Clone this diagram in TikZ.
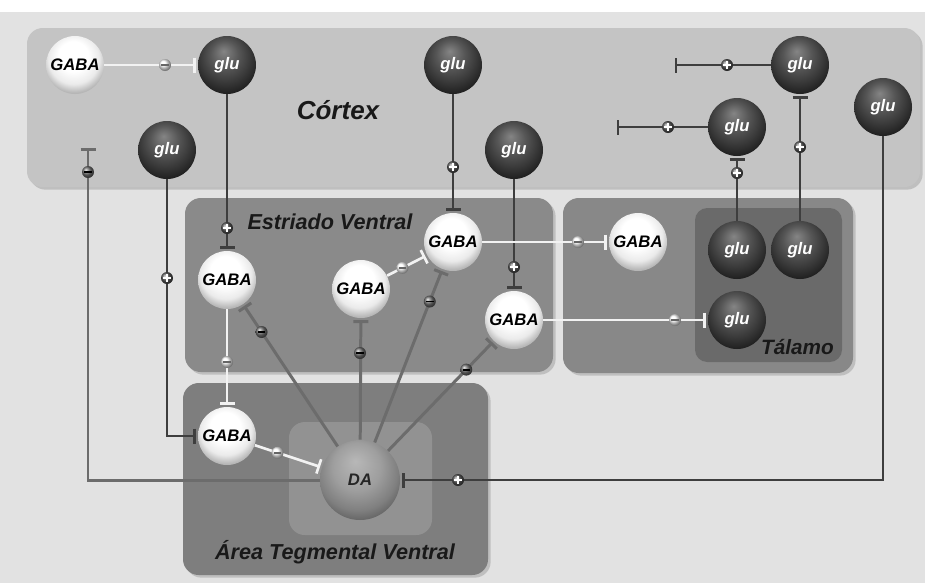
\documentclass[tikz,border=0pt]{standalone}
\usepackage{fontspec}
\setsansfont{Liberation Sans}
\usetikzlibrary{arrows.meta,calc,shadows}
\definecolor{fondo}{RGB}{226,226,226}
\definecolor{cortexf}{RGB}{196,196,196}
\definecolor{estrf}{RGB}{138,138,138}
\definecolor{talf}{RGB}{136,136,136}
\definecolor{talin}{RGB}{106,106,106}
\definecolor{atvf}{RGB}{126,126,126}
\definecolor{atvin}{RGB}{146,146,146}
\definecolor{oscuro}{RGB}{62,62,62}
\definecolor{claro}{RGB}{242,242,242}
\definecolor{medio}{RGB}{108,108,108}
\pgfdeclareradialshading{glush}{\pgfqpoint{-3bp}{12bp}}{color(0bp)=(black!48); color(12bp)=(black!66); color(22bp)=(black!78); color(30bp)=(black!88); color(50bp)=(black)}
\pgfdeclareradialshading{gabash}{\pgfqpoint{-2bp}{10bp}}{color(0bp)=(white); color(13bp)=(white); color(22bp)=(black!8); color(28bp)=(black!28); color(50bp)=(black!50)}
\pgfdeclareradialshading{dash}{\pgfqpoint{-3bp}{12bp}}{color(0bp)=(black!28); color(15bp)=(black!38); color(25bp)=(black!50); color(32bp)=(black!64); color(50bp)=(black!80)}
\newcommand{\rotulo}{\sffamily\bfseries\itshape}
\tikzset{
  region/.style={rounded corners=9pt, drop shadow={shadow xshift=1.5pt, shadow yshift=-1.5pt, opacity=.35}},
  glu/.style={circle, minimum size=1.16cm, inner sep=0pt, shading=glush, text=white, font=\rotulo\fontsize{9.5}{11}\selectfont},
  gaba/.style={circle, minimum size=1.16cm, inner sep=0pt, shading=gabash, text=black, font=\rotulo\fontsize{9.5}{11}\selectfont},
  dop/.style={circle, minimum size=1.6cm, inner sep=0pt, shading=dash, text=black!85, font=\rotulo\fontsize{9.5}{11}\selectfont},
  reg/.style={text=black!90, font=\rotulo\fontsize{12.3}{14}\selectfont},
  exc/.style={oscuro, line width=1.5pt, -{Bar[width=3mm]}, shorten >=1pt},
  inhw/.style={claro, line width=1.5pt, -{Bar[width=3mm]}, shorten >=1pt},
  inhd/.style={medio, line width=1.7pt, -{Bar[width=3mm]}, shorten >=1pt},
  mas/.style={circle, inner sep=0pt, minimum size=2.4mm, ball color=black!65,
    path picture={\draw[white, line width=1pt] ([xshift=-.75mm]path picture bounding box.center) -- ([xshift=.75mm]path picture bounding box.center);
      \draw[white, line width=1pt] ([yshift=-.75mm]path picture bounding box.center) -- ([yshift=.75mm]path picture bounding box.center);}},
  menosw/.style={circle, inner sep=0pt, minimum size=2.4mm, ball color=white,
    path picture={\draw[black!60, line width=1.1pt] ([xshift=-.75mm]path picture bounding box.center) -- ([xshift=.75mm]path picture bounding box.center);}},
  menosd/.style={circle, inner sep=0pt, minimum size=2.4mm, ball color=black!55,
    path picture={\draw[black, line width=1.1pt] ([xshift=-.75mm]path picture bounding box.center) -- ([xshift=.75mm]path picture bounding box.center);}},
}
\begin{document}
\begin{tikzpicture}[x=0.02cm, y=-0.02cm]
  \useasboundingbox (0,0) rectangle (925,583);
  \fill[white] (0,0) rectangle (925,583);
  \fill[fondo] (0,12) rectangle (925,583);
  % regiones
  \fill[cortexf, region] (27,28) rectangle (920,187);
  \fill[estrf, region] (185,198) rectangle (553,372);
  \fill[talf, region] (563,198) rectangle (853,373);
  \fill[talin, rounded corners=7pt] (695,208) rectangle (842,362);
  \fill[atvf, region] (183,383) rectangle (488,575);
  \fill[atvin, rounded corners=9pt] (289,422) rectangle (432,535);
  \node[reg, font=\rotulo\fontsize{14.8}{17}\selectfont] (lctx) at (338,110) {Córtex};
  \node[reg] (lest) at (330,222) {Estriado Ventral};
  \node[reg, anchor=east, font=\rotulo\fontsize{11.8}{14}\selectfont] (ltal) at (840,347) {Tálamo};
  \node[reg] (latv) at (335,552) {Área Tegmental Ventral};
  % corteza
  \node[gaba] (gabaC) at (75,65) {GABA};
  \node[glu] (gluA) at (227,65) {glu};
  \node[glu] (gluB) at (167,150) {glu};
  \node[glu] (gluC) at (453,65) {glu};
  \node[glu] (gluD) at (514,150) {glu};
  \node[glu] (gluE) at (800,65) {glu};
  \node[glu] (gluF) at (737,127) {glu};
  \node[glu] (gluG) at (883,107) {glu};
  % estriado ventral
  \node[gaba] (gabaE1) at (227,280) {GABA};
  \node[gaba] (gabaE2) at (361,289) {GABA};
  \node[gaba] (gabaE3) at (453,242) {GABA};
  \node[gaba] (gabaE4) at (514,320) {GABA};
  % talamo
  \node[gaba] (gabaT) at (638,242) {GABA};
  \node[glu] (gluT1) at (737,250) {glu};
  \node[glu] (gluT2) at (800,250) {glu};
  \node[glu] (gluT3) at (737,320) {glu};
  % area tegmental ventral
  \node[gaba] (gabaV) at (227,436) {GABA};
  \node[dop] (da) at (360,480) {DA};
  \coordinate (finE) at (673,65);
  \coordinate (finF) at (615,127);
  \coordinate (finCtx) at (88,146);
  % conexiones
  \draw[exc] (gluA) -- (gabaE1); \draw[exc] (gluC) -- (gabaE3); \draw[exc] (gluD) -- (gabaE4);
  \draw[exc] (gluB) |- (gabaV); \draw[exc] (gluG) |- (da);
  \draw[exc] (gluT1) -- (gluF); \draw[exc] (gluT2) -- (gluE);
  \draw[exc] (gluE) -- (finE); \draw[exc] (gluF) -- (finF);
  \draw[inhw] (gabaC) -- (gluA); \draw[inhw] (gabaE2) -- (gabaE3); \draw[inhw] (gabaE3) -- (gabaT);
  \draw[inhw] (gabaE4) -- (gluT3); \draw[inhw] (gabaE1) -- (gabaV); \draw[inhw] (gabaV) -- (da);
  \draw[inhd] (da) -| (finCtx);
  \foreach \g in {gabaE1,gabaE2,gabaE3,gabaE4} \draw[inhd] (da) -- (\g);
  % signos
  \node[mas] (p1) at (227,228) {}; \node[mas] (p2) at (453,167) {}; \node[mas] (p3) at (514,267) {};
  \node[mas] (p4) at (167,278) {}; \node[mas] (p5) at (737,173) {}; \node[mas] (p6) at (800,147) {};
  \node[mas] (p7) at (668,127) {}; \node[mas] (p8) at (727,65) {}; \node[mas] (p9) at (458,480) {};
  \node[menosw] (n1) at (165,65) {}; \node[menosw] (n2) at ($(gabaE2)!.45!(gabaE3)$) {};
  \node[menosw] (n3) at (578,242) {}; \node[menosw] (n4) at (675,320) {};
  \node[menosw] (n5) at (227,362) {}; \node[menosw] (n6) at ($(gabaV)!.38!(da)$) {};
  \node[menosd] (n7) at (88,172) {}; \node[menosd] (n8) at ($(da)!.74!(gabaE1)$) {};
  \node[menosd] (n9) at (360,353) {}; \node[menosd] (n10) at ($(da)!.75!(gabaE3)$) {};
  \node[menosd] (n11) at ($(da)!.69!(gabaE4)$) {};
\end{tikzpicture}
\end{document}
